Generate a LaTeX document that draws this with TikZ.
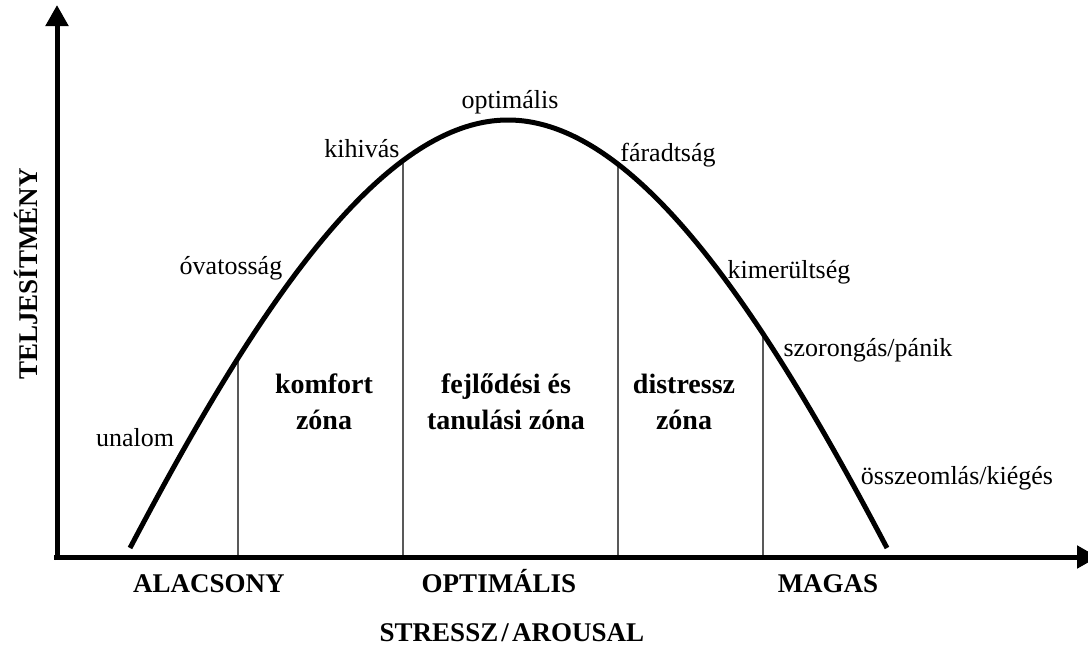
\documentclass[tikz,border=0pt]{standalone}
\usepackage{fontspec}
\setmainfont{Liberation Serif}
\usetikzlibrary{arrows.meta,intersections}
\tikzset{
  axis/.style={line width=5pt},
  bell/.style={line width=5pt},
  zoneline/.style={line width=1.4pt},
  lbl/.style={font=\fontsize{26}{30}\selectfont, inner sep=0pt},
  zone/.style={font=\bfseries\fontsize{28}{36}\selectfont, align=center, inner sep=0pt},
  caps/.style={font=\bfseries\fontsize{27}{32}\selectfont, inner sep=0pt, anchor=base}
}
\begin{document}
\begin{tikzpicture}[x=1pt,y=-1pt]
\useasboundingbox (0,0) rectangle (1088,648);
% axes
\coordinate (O) at (57,557);
\coordinate (ytip) at (57,5);
\coordinate (xtip) at (1098,557);
\draw[axis,-{Triangle[length=21pt,width=22pt]}] (57,560) -- (ytip);
\draw[axis,-{Triangle[length=21pt,width=22pt]}] (54,557) -- (xtip);
% curve
\draw[bell,name path=curve] (130,548) .. controls (250,320) and (378,120) .. (508,120)
  .. controls (638,120) and (767,320) .. (887,548);
% zone lines
\foreach \i/\x in {1/238,2/403,3/618,4/763}{
  \coordinate (b\i) at (\x,557);
  \path[name path=v\i] (\x,557) -- (\x,60);
  \path[name intersections={of=curve and v\i, by=t\i}];
  \draw[zoneline] (b\i) -- (t\i);
}
% curve labels
\node[lbl] (unalom) at (135,438) {unalom};
\node[lbl] (ovat) at (231,268) {óvatosság};
\node[lbl] (kihi) at (362,149) {kihivás};
\node[lbl] (opt) at (510,102) {optimális};
\node[lbl] (fara) at (668,155) {fáradtság};
\node[lbl] (kime) at (789,272) {kimerültség};
\node[lbl] (szor) at (868,350) {szorongás/pánik};
\node[lbl] (ossz) at (957,478) {összeomlás/kiégés};
% zone labels
\node[zone] (komf) at (324,402) {komfort\\zóna};
\node[zone] (fejl) at (506,402) {fejlődési és\\tanulási zóna};
\node[zone] (dist) at (684,402) {distressz\\zóna};
% axis labels
\node[caps] (alac) at (209,592) {ALACSONY};
\node[caps] (optx) at (499,592) {OPTIMÁLIS};
\node[caps] (mag) at (828,592) {MAGAS};
\node[caps] (stress) at (512,641) {STRESSZ\hspace{0.12em}/\hspace{0.12em}AROUSAL};
\node[caps,rotate=90] (telj) at (37,274) {TELJESÍTMÉNY};
\end{tikzpicture}
\end{document}
